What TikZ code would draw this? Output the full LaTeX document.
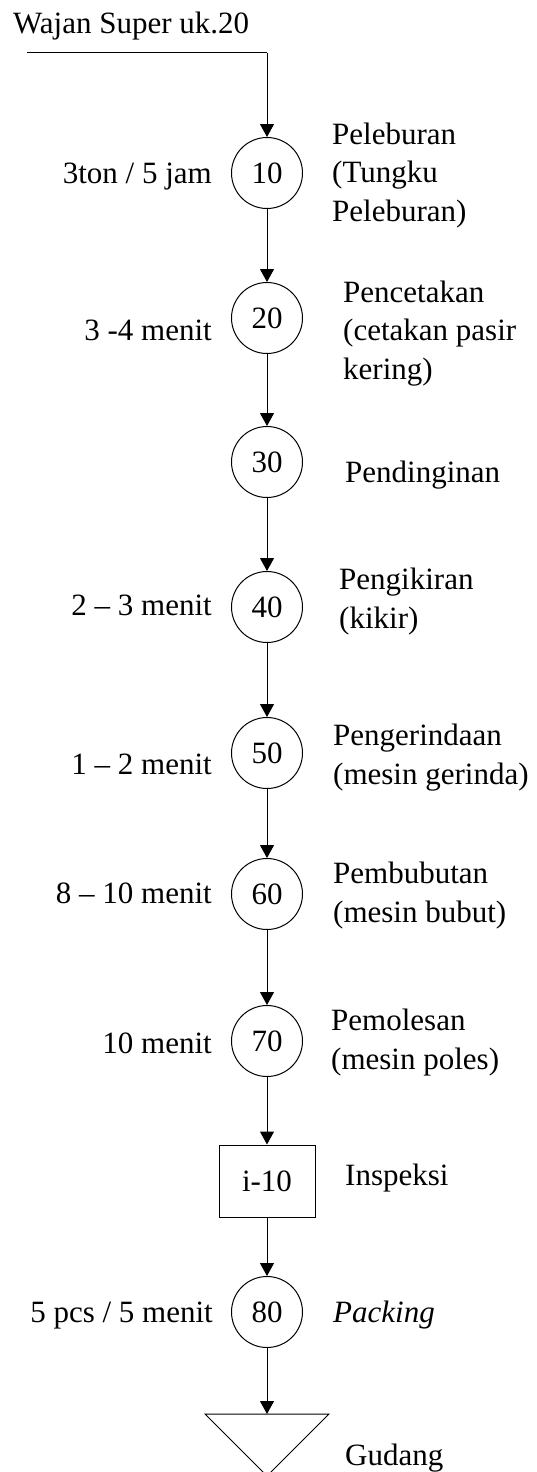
\documentclass[tikz,border=0pt]{standalone}
\usepackage{fontspec}
\setmainfont{Liberation Serif}
\usetikzlibrary{arrows.meta}
\begin{document}
\begin{tikzpicture}[x=1pt,y=-1pt,
  every node/.style={font=\fontsize{31}{38.5}\selectfont, inner sep=0pt},
  op/.style={draw, circle, minimum size=71pt, line width=1pt},
  insp/.style={draw, rectangle, minimum width=96pt, minimum height=72pt, line width=1pt},
  flow/.style={line width=1pt, -{Triangle[width=14pt,length=13pt]}},
  lhs/.style={anchor=base east},
  rhs/.style={anchor=base west, align=left},
]
\useasboundingbox (0,0) rectangle (536,1472);

% title and incoming material line
\node[anchor=base west] (title) at (13,34) {Wajan Super uk.20};
\coordinate (start) at (27,53);
\coordinate (bend) at (267,53);

% operations
\node[op] (o10) at (267,173) {10};
\node[op] (o20) at (267,318) {20};
\node[op] (o30) at (267,462) {30};
\node[op] (o40) at (267,607) {40};
\node[op] (o50) at (267,753) {50};
\node[op] (o60) at (267,894) {60};
\node[op] (o70) at (267,1041) {70};
\node[insp] (i10) at (267,1181) {i-10};
\node[op] (o80) at (267,1312) {80};

% storage
\coordinate (gtop) at (267,1414);
\draw[line width=1pt] (205,1414) -- (329,1414) -- (267,1476) -- cycle;

% times
\node[lhs] (t10) at (212,183) {3ton / 5 jam};
\node[lhs] (t20) at (212,340) {3 -4 menit};
\node[lhs] (t40) at (212,615) {2 – 3 menit};
\node[lhs] (t50) at (212,774) {1 – 2 menit};
\node[lhs] (t60) at (212,903) {8 – 10 menit};
\node[lhs] (t70) at (212,1053) {10 menit};
\node[lhs] (t80) at (213,1322) {5 pcs / 5 menit};

% descriptions (anchored on the baseline of their last line)
\node[rhs] (d10) at (332,221) {Peleburan\\(Tungku\\Peleburan)};
\node[rhs] (d20) at (343,379) {Pencetakan\\(cetakan pasir\\kering)};
\node[rhs] (d30) at (345,482) {Pendinginan};
\node[rhs] (d40) at (339,628) {Pengikiran\\(kikir)};
\node[rhs] (d50) at (333,784) {Pengerindaan\\(mesin gerinda)};
\node[rhs] (d60) at (333,922) {Pembubutan\\(mesin bubut)};
\node[rhs] (d70) at (331,1069) {Pemolesan\\(mesin poles)};
\node[rhs] (di) at (345,1185) {Inspeksi};
\node[rhs] (d80) at (333,1322) {\itshape Packing};
\node[rhs] (dg) at (345,1465) {Gudang};

% flow
\draw[line width=1pt] (start) -- (bend);
\draw[flow] (bend) -- (o10);
\draw[flow] (o10) -- (o20);
\draw[flow] (o20) -- (o30);
\draw[flow] (o30) -- (o40);
\draw[flow] (o40) -- (o50);
\draw[flow] (o50) -- (o60);
\draw[flow] (o60) -- (o70);
\draw[flow] (o70) -- (i10);
\draw[flow] (i10) -- (o80);
\draw[flow] (o80) -- (gtop);
\end{tikzpicture}
\end{document}
